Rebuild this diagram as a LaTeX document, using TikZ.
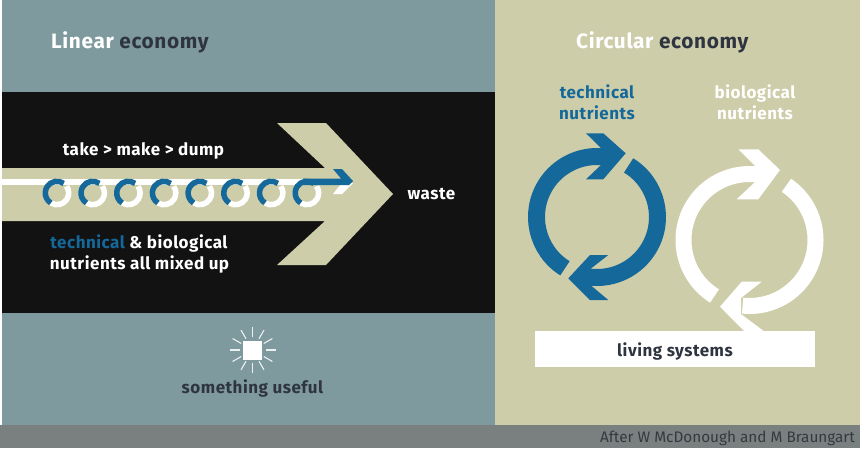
\documentclass[tikz,border=0pt]{standalone}
\usepackage{fontspec}
\setmainfont{Fira Sans}
\definecolor{slate}{HTML}{7F9A9E}
\definecolor{sand}{HTML}{CECDAA}
\definecolor{ink}{HTML}{121212}
\definecolor{tech}{HTML}{14689A}
\definecolor{dark}{HTML}{2F3540}
\definecolor{strip}{HTML}{7A7F80}
\definecolor{credit}{HTML}{353A40}
\tikzset{
 label/.style={inner sep=0pt,anchor=base,font=\fontsize{17}{20}\selectfont\bfseries\addfontfeature{LetterSpace=3},align=center},
 title/.style={inner sep=0pt,anchor=base west,font=\fontsize{20.8}{25}\selectfont\bfseries\addfontfeature{LetterSpace=3}},
 ringt/.style={draw=tech,line width=17pt,line cap=butt},
 ringb/.style={draw=white,line width=16pt,line cap=butt},
 ray/.style={draw=white!85!slate,line width=1.1pt},
}
\begin{document}
\begin{tikzpicture}[x=1pt,y=-1pt]
\useasboundingbox (0,0) rectangle (860,448);
\fill[white] (0,0) rectangle (860,448);
\fill[slate] (2,0) rectangle (495,425);
\fill[sand] (495,0) rectangle (860,425);
\fill[strip] (0,425) rectangle (860,448);
\fill[ink] (2,92) rectangle (495,313);
% big arrow
\fill[sand] (2,168) -- (325,168) -- (277,123) -- (326,123) -- (393,194) -- (326,265) -- (277,265) -- (325,221) -- (2,221) -- cycle;
% white line
\fill[white] (2,179) rectangle (320,184.5);
% rings
\foreach \i in {0,...,7}{
  \pgfmathsetmacro{\cx}{57+35.7*\i}
  \draw[white,line width=5.5pt] ({\cx+11.7*cos(122)},{193+11.7*sin(122)}) arc[start angle=122,end angle=-35,radius=11.7];
  \draw[tech,line width=5.5pt] ({\cx+11.7*cos(55)},{193-11.7*sin(55)}) arc[start angle=-55,end angle=-238,radius=11.7];
}
% small arrow
\fill[white] (353,183) -- (342,194) -- (333,194) -- (341,184) -- cycle;
\fill[tech] (303,178.5) -- (341,178.5) -- (333,169) -- (342,169) -- (353,181) -- (349,185) -- (303,185) -- cycle;
% blue cycle
\draw[ringt] ({597+60.5*cos(238)},{217-60.5*sin(238)}) arc[start angle=122,end angle=276,radius=60.5];
\draw[ringt] ({597+60.5*cos(58.5)},{217-60.5*sin(58.5)}) arc[start angle=-58.5,end angle=96,radius=60.5];
\fill[tech] (586,133.3) -- (603.3,133.3) -- (625.7,153.3) -- (603.3,179.3) -- (586,179.3) -- (601,165) -- (601,148) -- cycle;
\fill[tech] (608.3,255) -- (590,255) -- (568.3,278.3) -- (590,300) -- (608.3,300) -- (591,285.5) -- (591,268.5) -- cycle;
% white cycle
\draw[ringb] ({749.5+66*cos(238)},{240-66*sin(238)}) arc[start angle=122,end angle=276,radius=66];
\draw[ringb] ({749.5+66*cos(56)},{240-66*sin(56)}) arc[start angle=-56,end angle=96,radius=66];
\fill[white] (738.3,149.3) -- (758.3,149.3) -- (780,170) -- (758.3,199.3) -- (736.7,199.3) -- (755,182) -- (755,166) -- cycle;
\fill[white] (761.7,281.7) -- (741.7,281.7) -- (720,306.7) -- (745,332) -- (765,332) -- (741,314) -- (741,298) -- cycle;
\node[fill=white,minimum width=280pt,minimum height=36pt,inner sep=0pt] (livebox) at (675,348.5) {};
% sun
\foreach \a in {0,30,...,330}{
  \draw[ray] ({252.5+13*cos(\a)},{350+13*sin(\a)}) -- ({252.5+23*cos(\a)},{350+23*sin(\a)});
}
\fill[white] (243,341) rectangle (262,360);
% text
\node[title,text=white] (lin) at (51,48) {Linear \textcolor{dark}{economy}};
\node[title,text=white] (circ) at (576,48) {Circular \textcolor{dark}{economy}};
\node[label,text=white] (tmd) at (143.5,155) {take > make > dump};
\node[label,text=white] (waste) at (431.5,199) {waste};
\node[label,text=white] (mix1) at (139,248) {\textcolor{tech}{technical} \& biological};
\node[label,text=white] (mix2) at (139.5,269) {nutrients all mixed up};
\node[label,text=tech] (tn1) at (597,98) {technical};
\node[label,text=tech] (tn2) at (597,119) {nutrients};
\node[label,text=white] (bn1) at (755,98) {biological};
\node[label,text=white] (bn2) at (755,119) {nutrients};
\node[label,text=dark] (use) at (252.5,393) {something useful};
\node[label,text=dark] (live) at (675,356) {living systems};
\node[inner sep=0pt,anchor=base east,text=credit,font=\fontsize{15.3}{18}\selectfont] (cred) at (855,442) {After W McDonough and M Braungart};
\end{tikzpicture}
\end{document}
